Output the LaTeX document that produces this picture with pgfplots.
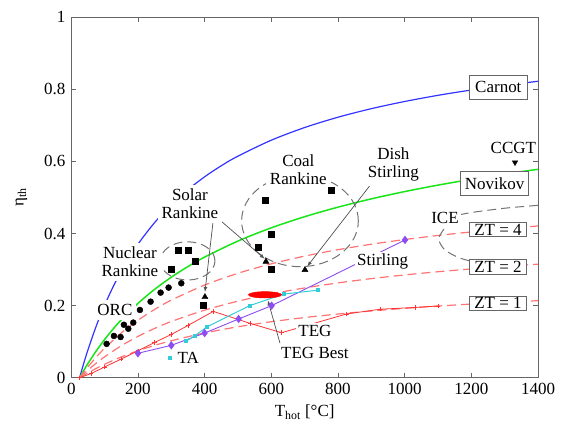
\documentclass[border=0pt]{standalone}
\usepackage{fontspec}
\setmainfont{Liberation Serif}
\usepackage{pgfplots}
\pgfplotsset{compat=1.18}

\definecolor{carnotblue}{rgb}{0.2,0.2,1}
\definecolor{novgreen}{rgb}{0.1,0.9,0.1}
\definecolor{ztred}{rgb}{1,0.45,0.45}
\definecolor{tegred}{rgb}{1,0.2,0.2}
\definecolor{stirpurple}{rgb}{0.55,0.3,0.95}
\definecolor{tacyan}{rgb}{0.2,0.8,0.85}
\definecolor{annogray}{rgb}{0.45,0.45,0.45}
\definecolor{framegray}{rgb}{0.4,0.4,0.4}

\pgfplotstableread{
T eta
25 0
35 0.0325
50 0.0774
75 0.1436
100 0.2010
125 0.2512
150 0.2954
200 0.3699
250 0.4301
300 0.4798
350 0.5215
400 0.5571
450 0.5877
500 0.6144
600 0.6585
700 0.6936
800 0.7222
900 0.7459
1000 0.7658
1100 0.7829
1200 0.7976
1300 0.8105
1400 0.8218
}\carnot

\pgfplotstableread{
T eta
25 0
35 0.0164
50 0.0395
75 0.0746
100 0.1061
125 0.1346
150 0.1606
200 0.2062
250 0.2451
300 0.2788
350 0.3083
400 0.3345
500 0.3790
600 0.4157
700 0.4465
800 0.4729
900 0.4959
1000 0.5161
1100 0.5340
1200 0.5501
1300 0.5647
1400 0.5779
}\novikov

% thermoelectric limits for ZT = 1, 2, 4
\pgfplotstableread{
T zt1 zt2 zt4
25 0 0 0
50 0.0137 0.0213 0.0303
75 0.0262 0.0406 0.0574
100 0.0376 0.0581 0.0819
150 0.0578 0.0888 0.1242
200 0.0749 0.1146 0.1595
250 0.0898 0.1368 0.1895
300 0.1027 0.1560 0.2152
400 0.1243 0.1875 0.2570
500 0.1414 0.2124 0.2897
600 0.1554 0.2325 0.3158
700 0.1670 0.2491 0.3372
800 0.1768 0.2630 0.3551
900 0.1852 0.2749 0.3702
1000 0.1924 0.2851 0.3832
1100 0.1988 0.2940 0.3945
1200 0.2044 0.3018 0.4043
1300 0.2093 0.3088 0.4130
1400 0.2138 0.3149 0.4208
}\ztlimits

\pgfplotstableread{
T eta
25 0
60 0.012
100 0.030
150 0.052
200 0.075
250 0.098
300 0.120
350 0.145
426 0.184
536 0.151
631 0.125
826 0.177
926 0.190
1031 0.195
1100 0.199
}\teg

\pgfplotstableread{
T eta
344 0.101
371 0.117
407 0.141
535 0.200
637 0.232
741 0.243
}\ta

\pgfplotstableread{
T eta
200 0.068
300 0.090
400 0.124
502 0.163
601 0.200
1001 0.382
}\stirling

\pgfplotstableread{
T eta
106 0.094
128 0.116
148 0.113
158 0.147
171 0.136
186 0.153
206 0.188
238 0.211
268 0.236
292 0.250
330 0.262
}\orc

\pgfplotstableread{
T eta
321 0.353
351 0.353
371 0.322
299 0.301
}\nuclear

\pgfplotstableread{
T eta
581 0.493
779 0.519
601 0.399
561 0.361
601 0.301
}\coal

\begin{document}
\fontsize{17bp}{20bp}\selectfont
\begin{tikzpicture}
\begin{axis}[
  scale only axis,
  width=467bp, height=361bp,
  xmin=0, xmax=1400, ymin=0, ymax=1,
  xtick={0,200,400,600,800,1000,1200,1400},
  ytick={0,0.2,0.4,0.6,0.8,1},
  tick align=inside,
  major tick length=5bp,
  axis line style={framegray, line width=0.8bp},
  every tick/.style={framegray, line width=0.6bp},
  tick label style={font=\fontsize{17bp}{20bp}\selectfont},
  /pgf/number format/assume math mode=true,
  /pgf/number format/1000 sep={},
  xlabel={T\textsubscript{hot} [°C]},
  ylabel={η\textsubscript{th}},
  every axis x label/.style={at={(axis description cs:0.5,-0.095)}, anchor=center, font=\fontsize{17bp}{20bp}\selectfont},
  every axis y label/.style={at={(axis description cs:-0.107,0.5)}, rotate=90, anchor=center, font=\fontsize{17bp}{20bp}\selectfont},
  clip=false,
]
% efficiency limits
\addplot[carnotblue, line width=1.2bp, smooth] table[x=T, y=eta] {\carnot};
\addplot[novgreen, line width=1.5bp, smooth] table[x=T, y=eta] {\novikov};
\addplot[ztred, line width=1.2bp, dash pattern=on 9bp off 5bp, smooth] table[x=T, y=zt1] {\ztlimits};
\addplot[ztred, line width=1.2bp, dash pattern=on 9bp off 5bp, smooth] table[x=T, y=zt2] {\ztlimits};
\addplot[ztred, line width=1.2bp, dash pattern=on 9bp off 5bp, smooth] table[x=T, y=zt4] {\ztlimits};

% technologies
\addplot[tegred, line width=0.8bp, mark=+, mark size=2.2bp] table[x=T, y=eta] {\teg};
\addplot[stirpurple, line width=0.9bp, mark=diamond*, mark size=3.5bp, mark options={fill=stirpurple}] table[x=T, y=eta] {\stirling};
\addplot[tacyan, line width=1bp, mark=square*, mark size=1.5bp, mark options={fill=tacyan}] table[x=T, y=eta] {\ta};
\addplot[tacyan, only marks, mark=square*, mark size=1.5bp, mark options={fill=tacyan}] coordinates {(296,0.057)};
\addplot[black, only marks, mark=*, mark size=3bp] table[x=T, y=eta] {\orc};
\addplot[black, only marks, mark=square*, mark size=3bp] table[x=T, y=eta] {\nuclear};
\addplot[black, only marks, mark=square*, mark size=3bp] table[x=T, y=eta] {\coal};
\addplot[black, only marks, mark=square*, mark size=3bp] coordinates {(397,0.201)};
\addplot[black, only marks, mark=triangle*, mark size=3.5bp] coordinates {(401,0.224) (584,0.322) (701,0.299)};
\addplot[black, only marks, mark=triangle*, mark size=3.2bp, mark options={rotate=180}] coordinates {(1331,0.597)};
% best thermoelectric generator region
\addplot[only marks, mark=*, mark size=3.2bp, mark options={xscale=5.2, fill=red, draw=red}] coordinates {(581,0.230)};

% group outlines
\draw[annogray, line width=1bp, dash pattern=on 9bp off 5bp] (axis cs:686,0.435) ellipse [x radius=175, y radius=0.127];
\draw[annogray, line width=1bp, dash pattern=on 9bp off 5bp] (axis cs:349,0.324) ellipse [x radius=82, y radius=0.053];
\draw[annogray, line width=1bp, dash pattern=on 9bp off 5bp] plot[smooth] coordinates {(axis cs:1400,0.478) (axis cs:1300,0.470) (axis cs:1200,0.458) (axis cs:1140,0.447)};
\draw[annogray, line width=1bp, dash pattern=on 9bp off 5bp] plot[smooth] coordinates {(axis cs:1118,0.412) (axis cs:1102,0.385) (axis cs:1120,0.355) (axis cs:1160,0.334) (axis cs:1195,0.324)};

% pointers
\draw[-latex, annogray!70!black, line width=0.7bp] (axis cs:426,0.438) -- (axis cs:401,0.238);
\draw[-latex, annogray!70!black, line width=0.7bp] (axis cs:451,0.433) -- (axis cs:580,0.330);
\draw[-latex, annogray!70!black, line width=0.7bp] (axis cs:901,0.539) -- (axis cs:708,0.309);
\draw[-latex, annogray!70!black, line width=0.7bp] (axis cs:626,0.096) -- (axis cs:590,0.214);

% labels
\begin{scope}[every node/.style={font=\fontsize{17bp}{18bp}\selectfont, fill=white, inner sep=4bp, align=center}]
\node at (axis cs:131,0.188) {ORC};
\node at (axis cs:176,0.322) {Nuclear\\Rankine};
\node at (axis cs:356,0.482) {Solar\\Rankine};
\node at (axis cs:681,0.578) {Coal\\Rankine};
\node at (axis cs:966,0.590) {Dish\\Stirling};
\node[inner sep=2bp] at (axis cs:934,0.322) {Stirling};
\node[inner sep=2bp] at (axis cs:1121,0.442) {ICE};
\node[inner sep=2bp] at (axis cs:351,0.055) {TA};
\node[inner sep=2bp] at (axis cs:731,0.131) {TEG};
\node[inner sep=2bp] at (axis cs:731,0.068) {TEG Best};
\node[fill=none] at (axis cs:1326,0.636) {CCGT};
\end{scope}
\begin{scope}[every node/.style={font=\fontsize{17bp}{18bp}\selectfont, fill=white, draw=framegray, line width=0.9bp}]
\node[inner xsep=6bp, minimum height=24bp] at (axis cs:1281,0.805) {Carnot};
\node[inner xsep=4bp, minimum height=24bp] at (axis cs:1270,0.538) {Novikov};
\node[inner xsep=5bp, inner ysep=1.5bp] at (axis cs:1280,0.411) {ZT = 4};
\node[inner xsep=5bp, inner ysep=1.5bp] at (axis cs:1280,0.307) {ZT = 2};
\node[inner xsep=5bp, inner ysep=1.5bp] at (axis cs:1280,0.207) {ZT = 1};
\end{scope}
\end{axis}
\useasboundingbox ([xshift=-71.3bp,yshift=-52bp]current axis.south west) rectangle ([xshift=25bp,yshift=17bp]current axis.north east);
\end{tikzpicture}
\end{document}
